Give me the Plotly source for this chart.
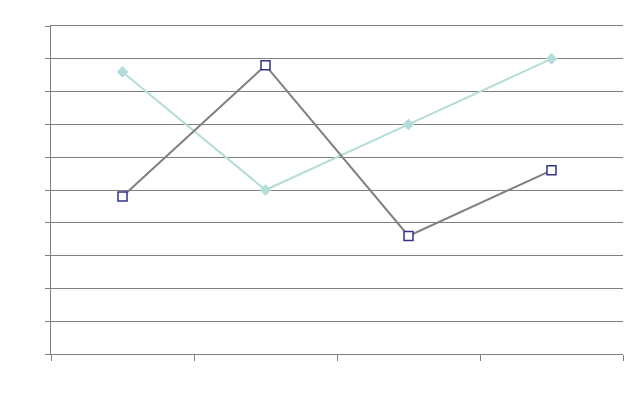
import plotly.graph_objects as go

categories = ["A", "B", "C", "D"]
series_teal = [8.6, 5.0, 7.0, 9.0]
series_gray = [4.8, 8.8, 3.6, 5.6]

fig = go.Figure()
fig.add_trace(go.Scatter(
    x=categories, y=series_teal, mode="lines+markers",
    line=dict(color="#b3ddd8", width=2),
    marker=dict(symbol="diamond", size=9, color="#b3ddd8"),
    showlegend=False, cliponaxis=False,
))
fig.add_trace(go.Scatter(
    x=categories, y=series_gray, mode="lines+markers",
    line=dict(color="#808080", width=2),
    marker=dict(symbol="square", size=9, color="white",
                line=dict(color="#333388", width=1.5)),
    showlegend=False, cliponaxis=False,
))

fig.update_layout(
    width=640, height=396,
    margin=dict(l=51, r=17, t=26, b=42),
    paper_bgcolor="white", plot_bgcolor="white",
    xaxis=dict(
        type="category", range=[-0.5, 3.5], tickson="boundaries",
        ticks="outside", ticklen=6, tickcolor="#808080", tickwidth=1,
        showticklabels=False, showgrid=False, zeroline=False,
        showline=True, mirror=True, linecolor="#808080", linewidth=1,
    ),
    yaxis=dict(
        range=[0, 10], dtick=1, tick0=0,
        ticks="outside", ticklen=5, tickcolor="#808080", tickwidth=1,
        showticklabels=False, showgrid=True, gridcolor="#808080", gridwidth=1,
        zeroline=False, showline=True, linecolor="#808080", linewidth=1,
    ),
)

fig.write_html("out.html", config={"displayModeBar": False},
               post_script="document.body.style.margin='0';")
